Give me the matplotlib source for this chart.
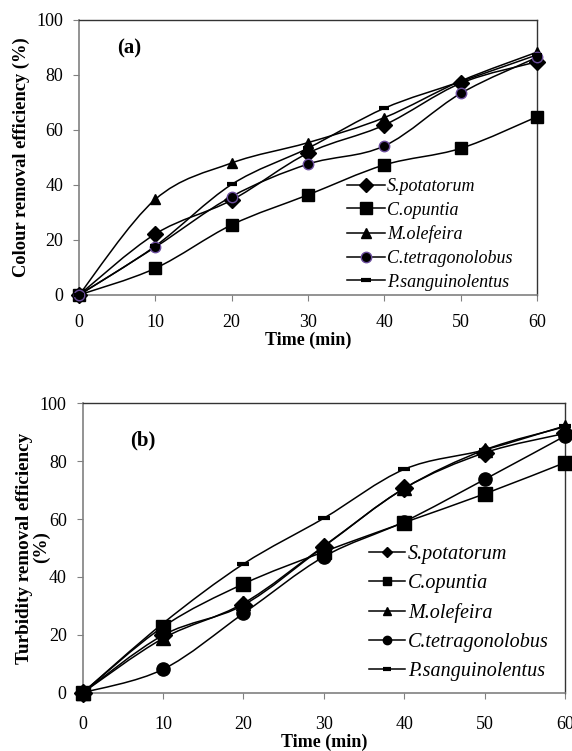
import numpy as np
import matplotlib
matplotlib.use("Agg")
import matplotlib.pyplot as plt
from matplotlib.path import Path
from matplotlib.patches import PathPatch
from matplotlib.lines import Line2D

# -------------------------
# data
# -------------------------
time = [0, 10, 20, 30, 40, 50, 60]
species = ["S.potatorum", "C.opuntia", "M.olefeira", "C.tetragonolobus", "P.sanguinolentus"]

colour_spot = [0, 22.2, 34.5, 51.6, 61.8, 77.0, 84.8]
colour_copu = [0, 9.7, 25.5, 36.4, 47.3, 53.3, 64.8]
colour_mole = [0, 34.8, 48.0, 55.4, 64.5, 77.8, 88.3]
colour_ctet = [0, 17.4, 35.8, 47.6, 54.2, 73.3, 86.4]
colour_psan = [0, 17.8, 40.2, 53.4, 67.9, 77.6, 87.3]

turb_spot = [0, 19.9, 30.3, 50.5, 70.6, 82.9, 89.6]
turb_copu = [0, 22.8, 37.6, 48.7, 58.8, 68.7, 79.5]
turb_mole = [0, 18.8, 30.9, 50.7, 70.6, 83.9, 91.9]
turb_ctet = [0, 8.1, 27.4, 47.0, 59.1, 73.7, 88.7]
turb_psan = [0, 24.0, 44.5, 60.3, 77.2, 83.9, 92.2]

colour_data = [colour_spot, colour_copu, colour_mole, colour_ctet, colour_psan]
turb_data = [turb_spot, turb_copu, turb_mole, turb_ctet, turb_psan]

# -------------------------
# style
# -------------------------
plt.rcParams["font.family"] = "Liberation Serif"

markers = ["D", "s", "^", "o", "_"]
lw = 1.1

# marker sizes: (plot, legend) per panel
ms_a = [8.0, 8.3, 7.8, 7.5, 7]
ms_a_leg = [7.5, 8.0, 7.5, 7.5, 7]
ms_b = [9.0, 10.0, 9.5, 9.5, 8]
ms_b_leg = [5.0, 6.0, 6.0, 6.0, 6]


def smooth_path(x, y):
    # Excel-like smoothed line: Catmull-Rom segments as cubic Bezier
    x = np.asarray(x, float)
    y = np.asarray(y, float)
    n = len(x)
    verts = [(x[0], y[0])]
    codes = [Path.MOVETO]
    for i in range(n - 1):
        i0 = max(i - 1, 0)
        i3 = min(i + 2, n - 1)
        c1 = (x[i] + (x[i + 1] - x[i0]) / 6, y[i] + (y[i + 1] - y[i0]) / 6)
        c2 = (x[i + 1] - (x[i3] - x[i]) / 6, y[i + 1] - (y[i3] - y[i]) / 6)
        verts += [c1, c2, (x[i + 1], y[i + 1])]
        codes += [Path.CURVE4] * 3
    return Path(verts, codes)


def draw_panel(ax, data, circle_edge, ms, ms_leg, label, tag_xy,
               xpad, xlabpad, leg_xy, leg_size, leg_hl, leg_sp):
    handles = []
    for k, (name, vals) in enumerate(zip(species, data)):
        ax.add_patch(PathPatch(smooth_path(time, vals), facecolor="none",
                               edgecolor="black", lw=lw, zorder=2))
        edge = circle_edge if markers[k] == "o" else "black"
        mew = 3 if markers[k] == "_" else 1
        ax.plot(time, vals, ls="none", marker=markers[k], ms=ms[k],
                mfc="black", mec=edge, mew=mew, zorder=3, clip_on=False)
        handles.append(Line2D([], [], color="black", lw=lw, marker=markers[k],
                              ms=ms_leg[k], mfc="black", mec=edge, mew=mew))
    ax.set_xlim(0, 60)
    ax.set_ylim(0, 100)
    ax.set_xticks(time)
    ax.set_yticks([0, 20, 40, 60, 80, 100])
    ax.tick_params(labelsize=13, direction="out", length=4, width=0.8,
                   color="#808080")
    ax.tick_params(axis="x", pad=xpad)
    ax.tick_params(axis="y", pad=7.5)
    for s in ["left", "bottom"]:
        ax.spines[s].set_color("#808080")
        ax.spines[s].set_linewidth(1.2)
    for s in ["top", "right"]:
        ax.spines[s].set_color("#333333")
        ax.spines[s].set_linewidth(1.0)
    ax.set_xlabel("Time (min)", fontsize=13, fontweight="bold", labelpad=xlabpad)
    ax.text(tag_xy[0], tag_xy[1], label, fontsize=15, fontweight="bold",
            ha="left", va="center")
    ax.legend(handles, species, loc="upper left", bbox_to_anchor=leg_xy,
              frameon=False, prop={"style": "italic", "size": leg_size},
              handlelength=leg_hl, handletextpad=0.12, labelspacing=leg_sp,
              borderaxespad=0, borderpad=0)


fig = plt.figure(figsize=(5.72, 7.51), dpi=100)
ax1 = fig.add_axes([0.1381, 0.6072, 0.8007, 0.3662])
ax2 = fig.add_axes([0.1446, 0.0776, 0.8432, 0.3854])

draw_panel(ax1, colour_data, "#6a4c9c", ms_a, ms_a_leg, "(a)", (5.0, 89.8),
           10, 0, (0.585, 0.425), 13, 2.1, 0.37)
ax1.set_ylabel("Colour removal efficiency (%)", fontsize=13.3, fontweight="bold")
ax1.yaxis.set_label_coords(-0.107, 0.5)

draw_panel(ax2, turb_data, "black", ms_b, ms_b_leg, "(b)", (5.9, 87.3),
           13, 0, (0.594, 0.509), 14.5, 1.8, 0.49)
ax2.set_ylabel("Turbidity removal efficiency", fontsize=13.8, fontweight="bold")
ax2.yaxis.set_label_coords(-0.104, 0.5)
ax2.text(-0.068, 0.502, "(%)", transform=ax2.transAxes, rotation=90,
         fontsize=13.8, fontweight="bold", ha="right", va="center")

fig.savefig("out.png", dpi=100)
